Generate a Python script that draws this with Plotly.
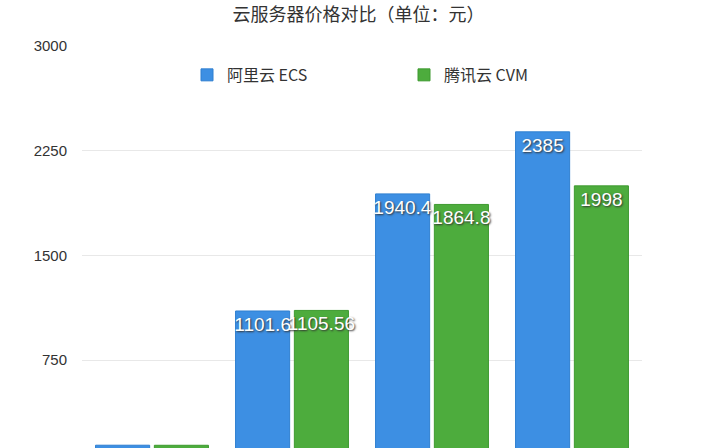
import plotly.graph_objects as go

# 价格数据（单位：元）
categories = ["配置一", "配置二", "配置三", "配置四"]
aliyun_ecs = [140, 1101.6, 1940.4, 2385]
tencent_cvm = [139.5, 1105.56, 1864.8, 1998]
y_ticks = [750, 1500, 2250, 3000]

font_family = "Noto Sans CJK SC, Liberation Sans, Arial, sans-serif"
label_font = dict(color="white", size=19, family="Liberation Sans, Arial",
                  shadow="1px 1px 2px #333")

fig = go.Figure()

fig.add_trace(go.Bar(
    x=categories,
    y=aliyun_ecs,
    name="阿里云 ECS",
    marker=dict(color="#3d8fe3", line=dict(color="#2f7fd0", width=1)),
    text=[f"{v:g}" for v in aliyun_ecs],
    textposition="inside",
    textangle=0,
    insidetextanchor="end",
    textfont=label_font,
    cliponaxis=False,
))

fig.add_trace(go.Bar(
    x=categories,
    y=tencent_cvm,
    name="腾讯云 CVM",
    marker=dict(color="#4dac3d", line=dict(color="#3e9a30", width=1)),
    text=[f"{v:g}" for v in tencent_cvm],
    textposition="inside",
    textangle=0,
    insidetextanchor="end",
    textfont=label_font,
    cliponaxis=False,
))

fig.update_layout(
    width=717,
    height=448,
    margin=dict(l=82, r=75, t=46, b=0),
    paper_bgcolor="white",
    plot_bgcolor="white",
    font=dict(family=font_family, color="#333"),
    title=dict(text="云服务器价格对比（单位：元）", x=0.5, xanchor="center",
               yref="container", y=0.968, yanchor="middle",
               font=dict(size=18, color="#333")),
    barmode="group",
    bargap=0.16,
    bargroupgap=0.08,
    uniformtext=dict(minsize=17, mode="show"),
    showlegend=True,
    legend=dict(orientation="h", x=0.1875, xanchor="left", y=0.928, yanchor="middle",
                entrywidth=172, entrywidthmode="pixels",
                font=dict(size=16, color="#333"), bgcolor="rgba(0,0,0,0)"),
    xaxis=dict(showticklabels=False, showgrid=False, zeroline=False, showline=False),
    yaxis=dict(range=[120, 3000], tickvals=y_ticks, ticktext=[str(t) for t in y_ticks],
               showgrid=True, gridcolor="#e8e8e8", gridwidth=1, zeroline=False,
               showline=False, ticks="", ticklabelstandoff=14,
               tickfont=dict(size=15, color="#333", family="Liberation Sans, Arial")),
)

# page body has an 8px margin by default; drop it so the figure sits at the corner
fig.write_html("out.html", config={"displayModeBar": False},
               post_script="document.body.style.margin='0';")
